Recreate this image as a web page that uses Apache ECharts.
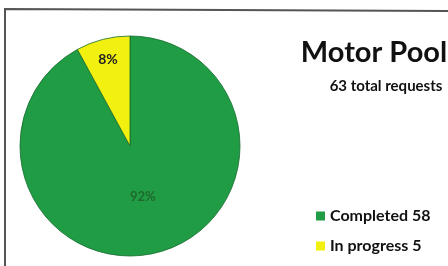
<!DOCTYPE html>
<html><head><meta charset="utf-8">
<script src="https://cdn.jsdelivr.net/npm/echarts@6/dist/echarts.min.js"></script>
<style>html,body{margin:0;padding:0;background:#fff}#c{width:448px;height:266px}</style>
</head><body><div id="c"></div>
<script>
const categories = ["Completed", "In progress"];
const values = [58, 5];
const percentLabels = ["92%", "8%"];
const titleText = "Motor Pool";
const subtitleText = "63 total requests";

const colors = ["#1f9c44", "#f2f00f"];
const chart = echarts.init(document.getElementById('c'));
const data = categories.map((n, i) => ({ name: n, value: values[i], itemStyle: { color: colors[i] } }));
chart.setOption({
  animation: false,
  title: [{
    text: titleText, left: 369, top: 33, textAlign: 'center',
    textStyle: { fontFamily: 'Lato', fontWeight: 'bold', fontSize: 29, color: '#111' }
  }, {
    text: subtitleText, left: 381, top: 74, textAlign: 'center',
    textStyle: { fontFamily: 'Lato', fontWeight: 'bold', fontSize: 15, color: '#111' }
  }],
  legend: {
    orient: 'vertical', left: 311, top: 203, itemWidth: 9, itemHeight: 9, itemGap: 14, icon: 'rect',
    data: categories,
    itemStyle: { borderWidth: 0 },
    formatter: n => n + ' ' + values[categories.indexOf(n)],
    textStyle: { fontFamily: 'Lato', fontWeight: 'bold', fontSize: 16, color: '#111' }
  },
  graphic: [{ type: 'polyline', shape: { points: [[5, 266], [5, 9], [448, 11]] }, style: { stroke: '#555', lineWidth: 2, fill: null } }],
  series: [{
    type: 'pie', center: [130, 146], radius: [0, 110], startAngle: 90, clockwise: true,
    silent: true,
    itemStyle: { borderColor: '#176b2e', borderWidth: 0.8 },
    label: { show: false },
    data: data
  }, {
    type: 'pie', center: [130, 146], radius: [0, 98], startAngle: 90, clockwise: true,
    silent: true, z: 5,
    itemStyle: { color: 'transparent' },
    label: {
      position: 'inside', fontFamily: 'Lato', fontWeight: 'bold', fontSize: 13,
      formatter: p => p.dataIndex === 0 ? percentLabels[0] : '', color: '#1f6a2e'
    },
    data: categories.map((n, i) => ({ name: n + ' ', value: values[i] }))
  }, {
    type: 'pie', center: [130, 146], radius: [0, 172], startAngle: 90, clockwise: true,
    silent: true, z: 5,
    itemStyle: { color: 'transparent' },
    label: {
      position: 'inside', fontFamily: 'Lato', fontWeight: 'bold', fontSize: 14,
      formatter: p => p.dataIndex === 1 ? percentLabels[1] : '', color: '#222'
    },
    data: categories.map((n, i) => ({ name: n + '  ', value: values[i] }))
  }]
});
</script></body></html>
